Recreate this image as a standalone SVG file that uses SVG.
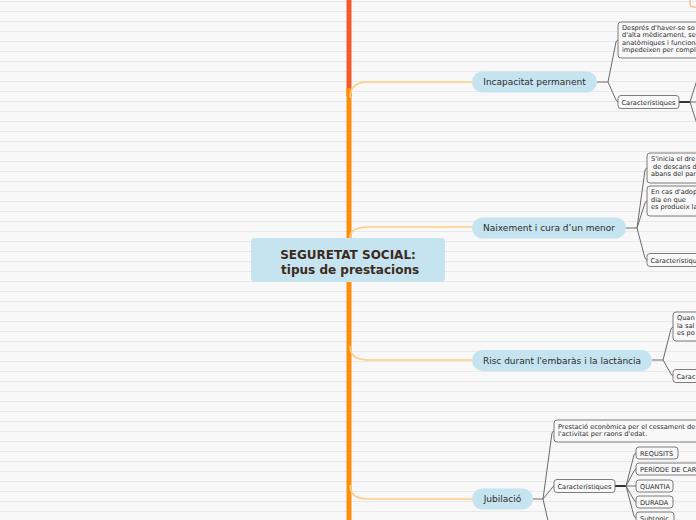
<svg xmlns="http://www.w3.org/2000/svg" width="696" height="520" viewBox="0 0 696 520">
<defs>
<pattern id="bg" x="0" y="0" width="696" height="10" patternUnits="userSpaceOnUse">
<rect width="696" height="10" fill="#f8f8f8"/>
<rect y="1" width="696" height="1" fill="#e9e9e9"/>
</pattern>
<style>
.main{fill:#c6e4f0}
.mt{font-family:"DejaVu Sans",Verdana,sans-serif;font-size:9px;fill:#2b2b2b;text-anchor:middle}
.ct{font-family:"DejaVu Sans",Verdana,sans-serif;font-size:12px;font-weight:bold;fill:#3b2a20;text-anchor:middle}
.sb{fill:#f8f8f8;stroke:#6e6e6e;stroke-width:0.9}
.st{font-family:"DejaVu Sans",Verdana,sans-serif;font-size:6.6px;fill:#2b2b2b}
.br{fill:none;stroke:#ffcb85;stroke-width:1.6}
.gl{fill:none;stroke:#6a6a6a;stroke-width:1}
.tk{fill:none;stroke:#333;stroke-width:2}
</style>
</defs>
<rect width="696" height="520" fill="url(#bg)"/>
<rect x="690" y="-20" width="24" height="27" rx="3" fill="none" stroke="#f7a65a" stroke-width="1"/>
<g id="connectors">
<line x1="349" y1="0" x2="349" y2="96" stroke="#f15a2b" stroke-width="5"/>
<line x1="349" y1="88" x2="349" y2="520" stroke="#fd8e0c" stroke-width="5"/>
<path class="br" d="M350,98 Q350,82 368,82 L472,82"/>
<path class="br" d="M350,238 Q350,227 368,227 L472,227"/>
<path class="br" d="M350,346 Q350,360 368,360 L472,360"/>
<path class="br" d="M350,485 Q350,499 368,499 L472,499"/>
<line class="gl" x1="597" y1="82" x2="608" y2="82" stroke-width="1.5"/>
<path class="gl" d="M608,82 L616,42 Q617,40 618,40"/>
<path class="gl" d="M608,82 L616,100 Q617,102 618,102"/>
<line class="tk" x1="679" y1="102" x2="690" y2="102"/>
<path class="gl" d="M690,102 L697,80 M690,102 L697,102 M690,102 L697,124"/>
<line class="gl" x1="626" y1="228" x2="637" y2="228" stroke-width="1.5"/>
<path class="gl" d="M637,228 L645,170 Q646,168 647,168"/>
<path class="gl" d="M637,228 L645,203 Q646,201 647,201"/>
<path class="gl" d="M637,228 L645,258 Q646,260 647,260"/>
<line class="gl" x1="652" y1="360" x2="663" y2="360" stroke-width="1.5"/>
<path class="gl" d="M663,360 L671,329 Q672,327 673,327"/>
<path class="gl" d="M663,360 L671,374 Q672,376 673,376"/>
<line class="gl" x1="533" y1="499" x2="543" y2="499" stroke-width="1.5"/>
<path class="gl" d="M543,499 L552,433 Q553,431 554,431"/>
<path class="gl" d="M543,499 L552,488 Q553,486 554,486"/>
<path class="gl" d="M543,499 L549,525"/>
<line class="tk" x1="615" y1="486" x2="626" y2="486"/>
<path class="gl" d="M626,486 L634,455 Q635,453 636,453"/>
<path class="gl" d="M626,486 L634,471 Q635,469 636,469"/>
<path class="gl" d="M626,486 L636,486"/>
<path class="gl" d="M626,486 L634,500 Q635,502 636,502"/>
<path class="gl" d="M626,486 L634,516 Q635,518 636,518"/>
</g>
<g id="center">
<rect class="main" x="251" y="238" width="194" height="44" rx="4"/>
<text class="ct" x="348" y="258.5">SEGURETAT SOCIAL:</text>
<text class="ct" x="348" y="273.5" xml:space="preserve"> tipus de prestacions</text>
</g>
<g id="incapacitat">
<rect class="main" x="472" y="71.5" width="125" height="21" rx="10.5"/>
<text class="mt" x="534.5" y="85.2">Incapacitat permanent</text>
</g>
<g id="incap-desc">
<rect class="sb" x="618" y="22" width="100" height="36" rx="3"/>
<text class="st" x="622" y="29.5">Després d'haver-se so</text>
<text class="st" x="622" y="37.1">d'alta mèdicament, se</text>
<text class="st" x="622" y="44.7">anatòmiques i funciona</text>
<text class="st" x="622" y="52.3">impedeixen per compl</text>
</g>
<g id="incap-car">
<rect class="sb" x="618" y="95.5" width="61" height="13" rx="3"/>
<text class="st" x="621.5" y="104.5">Característiques</text>
</g>
<g id="naixement">
<rect class="main" x="472" y="217.5" width="154" height="21" rx="10.5"/>
<text class="mt" x="549" y="231.2">Naixement i cura d’un menor</text>
</g>
<g id="naix-1">
<rect class="sb" x="647" y="153" width="70" height="30" rx="3"/>
<text class="st" x="651" y="161">S'inicia el dre</text>
<text class="st" x="651" y="168.6" xml:space="preserve"> de descans d</text>
<text class="st" x="651" y="176.2">abans del par</text>
</g>
<g id="naix-2">
<rect class="sb" x="647" y="186" width="70" height="30" rx="3"/>
<text class="st" x="651" y="194">En cas d'adop</text>
<text class="st" x="651" y="201.6">dia en que</text>
<text class="st" x="651" y="209.2">es produeix la</text>
</g>
<g id="naix-car">
<rect class="sb" x="647" y="253.5" width="70" height="13" rx="3"/>
<text class="st" x="650.5" y="262.5">Característiques</text>
</g>
<g id="risc">
<rect class="main" x="472" y="350" width="180" height="21" rx="10.5"/>
<text class="mt" x="562" y="363.7">Risc durant l'embaràs i la lactància</text>
</g>
<g id="risc-1">
<rect class="sb" x="673" y="312" width="50" height="29" rx="3"/>
<text class="st" x="677" y="320">Quan</text>
<text class="st" x="677" y="327.6">la sal</text>
<text class="st" x="677" y="335.2">es po</text>
</g>
<g id="risc-car">
<rect class="sb" x="673" y="369.5" width="50" height="13" rx="3"/>
<text class="st" x="676.5" y="378.5">Carac</text>
</g>
<g id="jubilacio">
<rect class="main" x="472" y="488.5" width="61" height="21" rx="10.5"/>
<text class="mt" x="502.5" y="502.2">Jubilació</text>
</g>
<g id="jub-desc">
<rect class="sb" x="554" y="420" width="150" height="22" rx="3"/>
<text class="st" x="558" y="428.5">Prestació econòmica per el cessament de</text>
<text class="st" x="558" y="436.1">l'activitat per raons d'edat.</text>
</g>
<g id="jub-car">
<rect class="sb" x="554" y="479.5" width="61" height="13" rx="3"/>
<text class="st" x="557.5" y="488.5">Característiques</text>
</g>
<g id="jub-req">
<rect class="sb" x="636" y="447" width="42" height="12" rx="3"/>
<text class="st" x="640" y="455.5">REQUSITS</text>
</g>
<g id="jub-per">
<rect class="sb" x="636" y="463" width="80" height="12" rx="3"/>
<text class="st" x="640" y="471.5">PERÍODE DE CAR</text>
</g>
<g id="jub-quan">
<rect class="sb" x="636" y="480" width="37" height="12" rx="3"/>
<text class="st" x="640" y="488.5">QUANTIA</text>
</g>
<g id="jub-dur">
<rect class="sb" x="636" y="496" width="37" height="12" rx="3"/>
<text class="st" x="640" y="504.5">DURADA</text>
</g>
<g id="jub-sub">
<rect class="sb" x="636" y="512" width="38" height="12" rx="3"/>
<text class="st" x="640" y="520.5">Subtopic</text>
</g>
</svg>
